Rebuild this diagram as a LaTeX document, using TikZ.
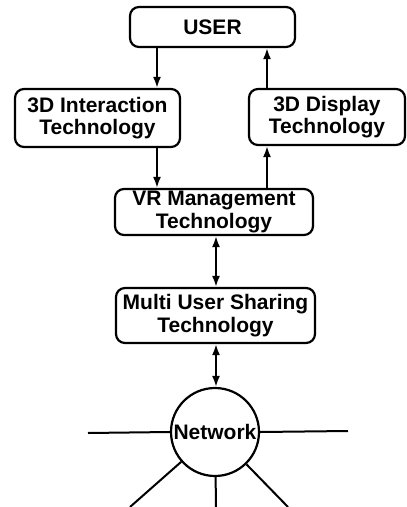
\documentclass[tikz,border=0pt]{standalone}
\usepackage{fontspec}
\setmainfont{Liberation Sans}
\usetikzlibrary{arrows.meta}
\begin{document}
\begin{tikzpicture}[x=1pt,y=-1pt,
  box/.style={draw,line width=2.2pt,rounded corners=9pt,align=center,font=\fontsize{21}{22.5}\selectfont\bfseries,inner sep=0pt},
  arr/.style={line width=2pt,-{Latex[length=11pt,width=8pt]}},
  darr/.style={line width=2pt,{Latex[length=11pt,width=8pt]}-{Latex[length=11pt,width=8pt]}},
  ln/.style={line width=2pt}]
\useasboundingbox (0,0) rectangle (407,507);
\node[box,minimum width=165pt,minimum height=40pt] (U) at (212.5,27) {USER};
\node[box,minimum width=165pt,minimum height=58pt] (I) at (97.5,118) {3D Interaction\\Technology};
\node[box,minimum width=156pt,minimum height=56pt] (D) at (327,117) {3D Display\\Technology};
\node[box,minimum width=198pt,minimum height=46pt] (V) at (214,212) {VR Management\\Technology};
\node[box,minimum width=199pt,minimum height=55pt] (M) at (215.5,315.5) {Multi User Sharing\\Technology};
\node[draw,circle,line width=2.2pt,minimum size=88pt,inner sep=0pt,font=\fontsize{21}{22.5}\selectfont\bfseries] (N) at (215,432) {Network};
\coordinate (a1) at (157,0);
\coordinate (a2) at (267,0);
\coordinate (a3) at (216,0);
\draw[arr] (U.south -| a1) -- (I.north -| a1);
\draw[arr] (I.south -| a1) -- (V.north -| a1);
\draw[arr] (V.north -| a2) -- (D.south -| a2);
\draw[arr] (D.north -| a2) -- (U.south -| a2);
\draw[darr] (V.south -| a3) -- (M.north -| a3);
\draw[darr] (M.south -| a3) -- (N.north -| a3);
\coordinate (l1) at (88,433);
\coordinate (l2) at (348,431);
\coordinate (l3) at (130,507);
\coordinate (l4) at (216,507);
\coordinate (l5) at (288,507);
\draw[ln] (N.west) -- (l1);
\draw[ln] (N.east) -- (l2);
\draw[ln] (N) -- (l3);
\draw[ln] (N) -- (l4);
\draw[ln] (N) -- (l5);
\end{tikzpicture}
\end{document}
